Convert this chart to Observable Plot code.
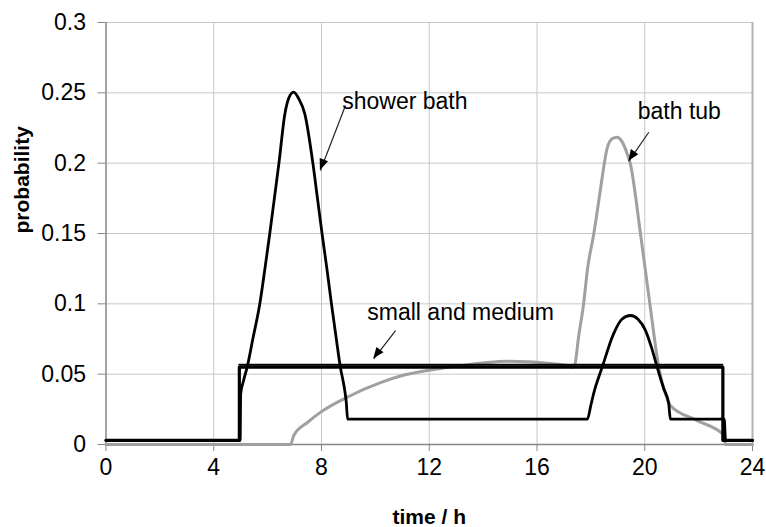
<!DOCTYPE html>
<html>
<head>
<meta charset="utf-8">
<script src="https://cdn.jsdelivr.net/npm/d3@7"></script>
<script src="https://cdn.jsdelivr.net/npm/@observablehq/plot@0.6"></script>
<style>
  body { margin: 0; background: #fff; }
  #chart svg { display: block; }
</style>
</head>
<body>
<div id="chart"></div>
<script>
// Tap-use probability profiles over a day (hour of day vs probability)

// small and medium draw-offs
const smallTime = [0, 4.95, 4.95, 22.9, 22.9, 24];
const smallProb = [0.003, 0.003, 0.055, 0.055, 0.003, 0.003];

// shower bath
const showerTime = [0, 4.98, 5.0, 5.1, 5.24, 5.45, 5.71, 5.9, 6.08, 6.25, 6.42, 6.64, 6.8, 6.97,
  7.15, 7.38, 7.68, 7.85, 8.02, 8.2, 8.37, 8.55, 8.7, 8.85, 8.92, 8.97,
  17.87, 18.0, 18.1, 18.42, 18.85, 19.15, 19.47, 19.75, 20.03, 20.25, 20.46, 20.7, 20.89, 20.95,
  22.95, 23.0, 24];
const showerProb = [0.003, 0.003, 0.036, 0.045, 0.055, 0.075, 0.1, 0.125, 0.15, 0.175, 0.2, 0.235, 0.247, 0.2505,
  0.246, 0.235, 0.2, 0.175, 0.15, 0.125, 0.1, 0.075, 0.055, 0.04, 0.03, 0.018,
  0.018, 0.028, 0.036, 0.055, 0.079, 0.089, 0.0917, 0.089, 0.081, 0.069, 0.055, 0.04, 0.029, 0.018,
  0.018, 0.003, 0.003];

// bath tub
const bathTime = [0, 6.85, 6.97, 7.5, 7.97, 8.95, 10.19, 11.0, 11.92, 12.91, 14.0, 14.89, 15.7, 16.38, 17.0, 17.37,
  17.56, 17.73, 17.87, 18.11, 18.36, 18.5, 18.61, 18.8, 18.98, 19.15, 19.35, 19.46, 19.84, 20.19, 20.52, 20.89, 20.95,
  21.95, 22.95, 23.0, 24];
const bathProb = [0, 0, 0.0064, 0.016, 0.023, 0.0336, 0.044, 0.049, 0.0526, 0.0555, 0.058, 0.0592, 0.0588, 0.0578, 0.0565, 0.055,
  0.0787, 0.1, 0.124, 0.15, 0.182, 0.2, 0.211, 0.2175, 0.2185, 0.2155, 0.2066, 0.2, 0.15, 0.1, 0.055, 0.03, 0.0277,
  0.017, 0.0064, 0, 0];

// axis ticks
const hourTicks = [0, 4, 8, 12, 16, 20, 24];
const probTicks = [0, 0.05, 0.1, 0.15, 0.2, 0.25, 0.3];

// annotation labels and their pointers
const noteText = ["shower bath", "bath tub", "small and medium"];
const noteTime = [8.77, 19.74, 9.70];
const noteProb = [0.2434, 0.2367, 0.094];
const pointerFromTime = [8.89, 20.15, 10.75];
const pointerFromProb = [0.241, 0.222, 0.081];
const pointerToTime = [7.96, 19.41, 9.94];
const pointerToProb = [0.1948, 0.2014, 0.0609];

const rows = (ts, ps) => ts.map((t, i) => ({t, p: ps[i]}));
const small = rows(smallTime, smallProb);
const smallPlateau = small.filter(d => d.p > 0.01);
const shower = rows(showerTime, showerProb);
const bath = rows(bathTime, bathProb);
const notes = noteText.map((text, i) => ({text, t: noteTime[i], p: noteProb[i]}));
const pointers = noteText.map((text, i) => ({
  t1: pointerFromTime[i], p1: pointerFromProb[i], t2: pointerToTime[i], p2: pointerToProb[i]
}));

const gridColor = "#c8c8c8";
const axisColor = "#868686";

const svg = Plot.plot({
  width: 766,
  height: 527,
  marginLeft: 105.5,
  marginRight: 14,
  marginTop: 22,
  marginBottom: 83,
  style: {fontFamily: "'Liberation Sans', Arial, sans-serif", color: "#000", background: "#fff"},
  x: {domain: [0, 24]},
  y: {domain: [0, 0.3]},
  marks: [
    Plot.gridX(hourTicks.slice(1, -1), {stroke: gridColor, strokeOpacity: 1}),
    Plot.gridY(probTicks.slice(1), {stroke: gridColor, strokeOpacity: 1}),
    Plot.ruleX([24], {stroke: "#b4b4b4", strokeWidth: 2}),
    Plot.ruleX([0], {stroke: axisColor, strokeWidth: 1.5}),
    Plot.ruleY([0], {stroke: axisColor, strokeWidth: 1.5}),
    Plot.axisX({ticks: hourTicks, tickSize: 7, tickPadding: 7, fontSize: 23, stroke: axisColor, label: null, tickFormat: d => String(d)}),
    Plot.axisY({ticks: probTicks, tickSize: 8, tickPadding: 12, fontSize: 23, stroke: axisColor, label: null, tickFormat: d => String(d)}),
    // series
    Plot.line(bath, {x: "t", y: "p", stroke: "#a0a0a0", strokeWidth: 3, curve: "monotone-x"}),
    Plot.line(small, {x: "t", y: "p", stroke: "#000", strokeWidth: 3.2}),
    Plot.line(smallPlateau, {x: "t", y: "p", stroke: "#000", strokeWidth: 2, strokeDasharray: "1,1", dy: -2.5}),
    Plot.line(shower, {x: "t", y: "p", stroke: "#000", strokeWidth: 2.8, curve: "monotone-x"}),
    // annotations
    Plot.link(pointers, {x1: "t1", y1: "p1", x2: "t2", y2: "p2", stroke: "#222", strokeWidth: 1.2}),
    Plot.text(notes, {x: "t", y: "p", text: "text", textAnchor: "start", fontSize: 23, fill: "#000"}),
    // axis titles
    Plot.text(["probability"], {frameAnchor: "left", dx: -83.5, rotate: -90, fontSize: 21, fontWeight: "bold", fill: "#000"}),
    Plot.text(["time / h"], {frameAnchor: "bottom", dy: 79, fontSize: 21, fontWeight: "bold", fill: "#000"})
  ]
});

// filled arrowheads at the pointer tips, placed through the plot's scales
const sx = svg.scale("x"), sy = svg.scale("y");
const heads = d3.select(svg).append("g").attr("aria-label", "pointer heads");
for (const d of pointers) {
  const x1 = sx.apply(d.t1), y1 = sy.apply(d.p1);
  const x2 = sx.apply(d.t2), y2 = sy.apply(d.p2);
  const angle = Math.atan2(y2 - y1, x2 - x1) * 180 / Math.PI;
  heads.append("path")
    .attr("d", "M0,0L-11,-4.5L-11,4.5Z")
    .attr("fill", "#000")
    .attr("transform", `translate(${x2},${y2}) rotate(${angle})`);
}

document.getElementById("chart").append(svg);
</script>
</body>
</html>
